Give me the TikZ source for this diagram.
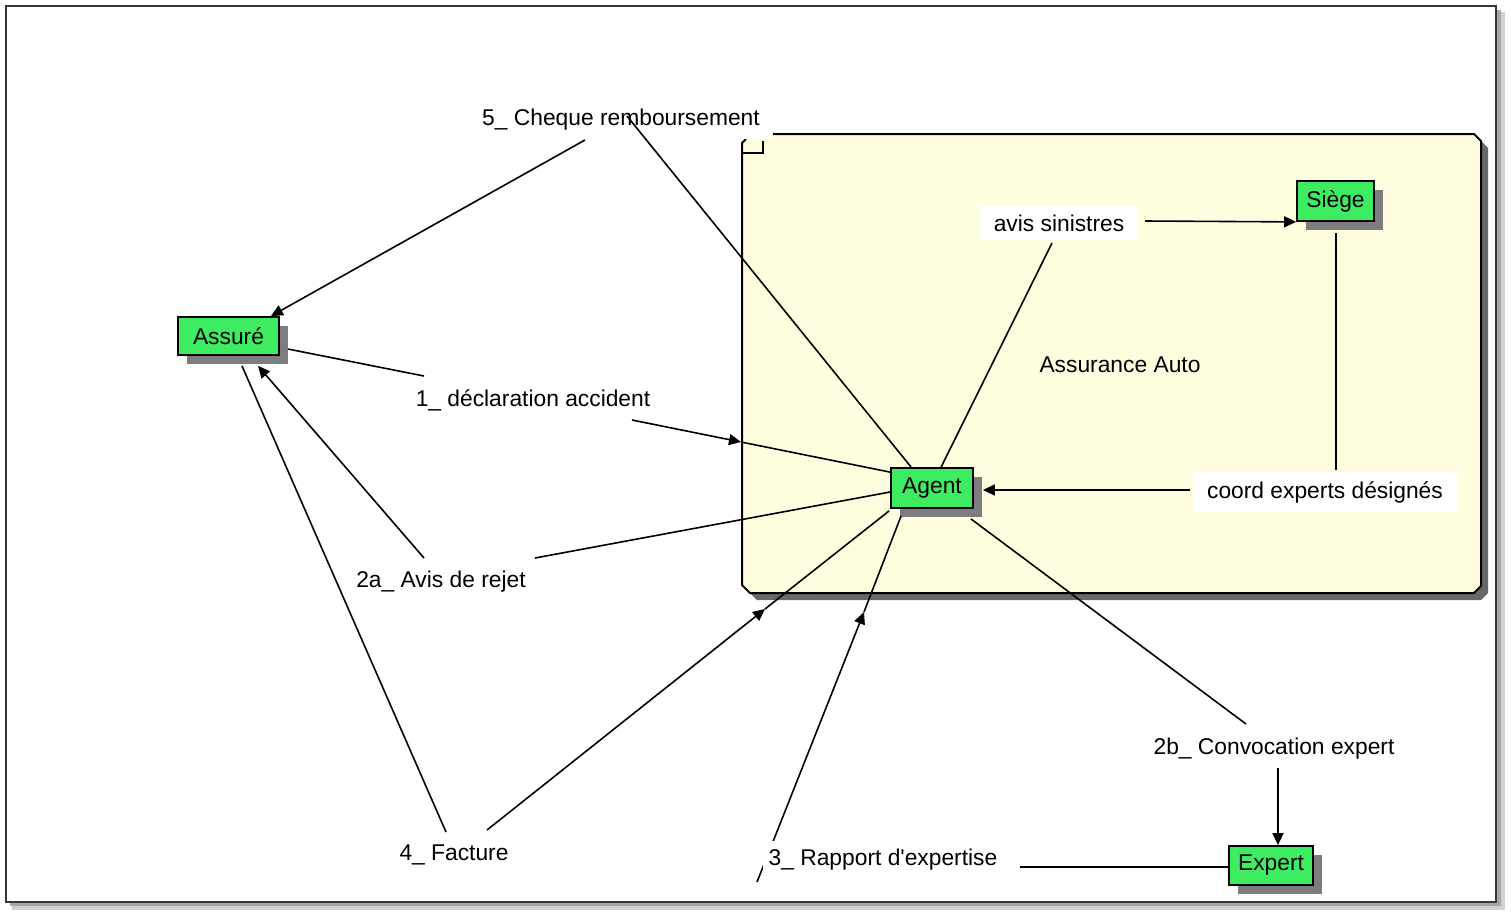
\documentclass[tikz,border=0pt]{standalone}
\usepackage{fontspec}
\setmainfont{Liberation Sans}[Ligatures=TeXOff]
\usetikzlibrary{calc,arrows.meta,shadows}
\definecolor{boxgreen}{RGB}{62,236,98}
\definecolor{paleyellow}{RGB}{254,254,222}
\definecolor{nodeshadow}{RGB}{125,125,125}
\definecolor{boxshadow}{RGB}{105,105,105}
\definecolor{framegray}{RGB}{55,55,55}
\begin{document}
\begin{tikzpicture}[x=0.5pt,y=-0.5pt,
  txt/.style={font=\fontsize{11.4}{13}\selectfont},
  actor/.style={txt, draw=black, line width=0.9pt, fill=boxgreen, inner sep=0pt,
    drop shadow={shadow xshift=4.5pt, shadow yshift=-4.5pt, fill=nodeshadow, opacity=1}},
  flowlabel/.style={txt, fill=white, inner xsep=3pt, inner ysep=4pt},
  widelabel/.style={flowlabel, inner xsep=7pt, inner ysep=4.5pt},
  wire/.style={line width=0.8pt},
  tip/.style={-{Triangle[length=6pt,width=5.5pt]}}
]
\useasboundingbox (0,0) rectangle (1511,917);
\fill[white] (0,0) rectangle (1511,917);
% outer frame with soft shadow
\fill[black!18] (1498,12) rectangle (1505,910);
\fill[black!18] (12,904) rectangle (1505,910);
\fill[black!35] (1497,10) rectangle (1501,906);
\fill[black!35] (10,903) rectangle (1501,906);
\draw[framegray, line width=1pt] (6,6) rectangle (1496,902);

% container Assurance Auto
\begin{scope}[shift={(7,7)}]
\fill[boxshadow] (750,134) -- (1474,134) -- (1481,141) -- (1481,586) -- (1474,593) -- (750,593) -- (742,585) -- (742,143) -- cycle;
\end{scope}
\fill[paleyellow] (750,134) -- (1474,134) -- (1481,141) -- (1481,586) -- (1474,593) -- (750,593) -- (742,585) -- (742,143) -- cycle;
\fill[white] (740,132) rectangle (772,139);
\draw[line width=1pt] (773,134) -- (1474,134) -- (1481,141) -- (1481,586) -- (1474,593) -- (750,593) -- (742,585) -- (742,143) -- (746,139);
\draw[line width=0.8pt] (742,153) -- (763,153) -- (763,141);
\node[txt] (title) at (1120,365) {Assurance Auto};

% actors
\node[actor, minimum width=50.5pt, minimum height=19pt] (assure) at (228.5,336) {Assuré};
\node[actor, minimum width=41pt, minimum height=20pt] (agent) at (932,488) {Agent};
\node[actor, minimum width=38.5pt, minimum height=20pt] (siege) at (1335.5,201) {Siège};
\node[actor, minimum width=42pt, minimum height=19.5pt] (expert) at (1271,865.5) {Expert};

% free ends of connectors
\coordinate (c5a) at (627,116);
\coordinate (c5b) at (585,140);
\coordinate (c1a) at (424,376);
\coordinate (c1b) at (632,420);
\coordinate (c1m) at (741,442);
\coordinate (c2a) at (535,558);
\coordinate (c2b) at (424,558);
\coordinate (c4a) at (446,832);
\coordinate (c4b) at (487,830);
\coordinate (c4m) at (765,609);
\coordinate (c3a) at (1020,867);
\coordinate (c3b) at (757,882);
\coordinate (c3m) at (864,612);
\coordinate (cbA) at (1246,724);
\coordinate (cbB) at (1278,768);
\coordinate (cavA) at (1052,243);
\coordinate (cavB) at (1145,221);
\coordinate (ccoA) at (1336,470);
\coordinate (ccoB) at (1190,490);

% connectors
\draw[wire, tip] (c5b) -- ($(assure.north east)+(-9,0)$);
\draw[wire] ($(assure.east)+(8,13)$) -- (c1a);
\draw[wire, tip] (c1b) -- (c1m);
\draw[wire] (c1m) -- ($(agent.north west)+(0,5)$);
\draw[wire] ($(agent.west)+(0,4)$) -- (c2a);
\draw[wire, tip] (c2b) -- ($(assure.south)+(29.5,10)$);
\draw[wire] ($(assure.south)+(13.5,10)$) -- (c4a);
\draw[wire, tip] (c4b) -- (c4m);
\draw[wire] (c4m) -- ($(agent.south west)+(-1,2)$);
\draw[wire, tip] (c3b) -- (c3m);
\draw[wire] (c3m) -- ($(agent.south west)+(11,7)$);
\draw[wire] ($(expert.west)+(0,1.5)$) -- (c3a);
\draw[wire] ($(agent.south east)+(-3,10)$) -- (cbA);
\draw[wire, tip] (cbB) -- ($(expert.north)+(7,0)$);
\draw[wire] ($(agent.north west)+(51,0)$) -- (cavA);
\draw[wire, tip] (cavB) -- (siege.south west);
\draw[wire] ($(siege.south)+(0.5,11)$) -- (ccoA);
\draw[wire, tip] (ccoB) -- ($(agent.east)+(9,2)$);

% flow labels
\node[flowlabel] (cheque) at (621,120) {5\_ Cheque remboursement};
\node[flowlabel] (decl) at (533,400) {1\_ déclaration accident};
\node[flowlabel] (rejet) at (441,582) {2a\_ Avis de rejet};
\node[flowlabel] (facture) at (454,855) {4\_ Facture};
\node[flowlabel] (rapport) at (883,860) {3\_ Rapport d'expertise};
\node[flowlabel] (convoc) at (1274,749) {2b\_ Convocation expert};
\node[widelabel] (avis) at (1059,223) {avis sinistres};
\node[widelabel] (coord) at (1325,492) {coord experts désignés};

% this connector runs over its label
\draw[wire] ($(agent.north west)+(21,0)$) -- (c5a);
\end{tikzpicture}
\end{document}
